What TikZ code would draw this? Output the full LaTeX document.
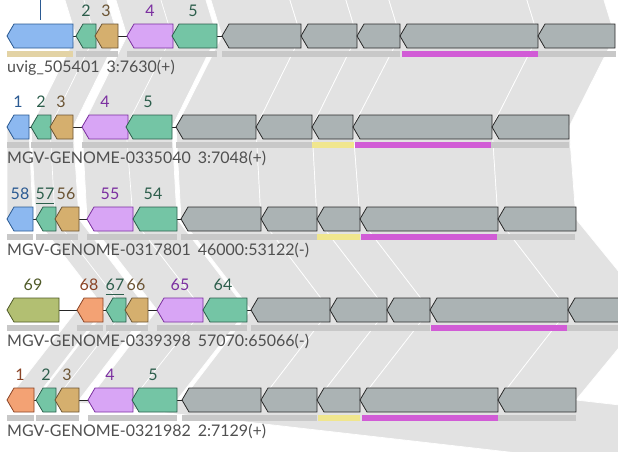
\documentclass[tikz,border=0pt]{standalone}
\usepackage{fontspec}
\setmainfont{Lato}
\usepackage{tikz}

\definecolor{linkgray}{HTML}{E2E2E2}
\definecolor{labeltext}{HTML}{505050}
\definecolor{blueF}{HTML}{8CB8F0}   \definecolor{blueD}{HTML}{2B5A92}
\definecolor{greenF}{HTML}{74C5A5}  \definecolor{greenD}{HTML}{2D5E4C}
\definecolor{tanF}{HTML}{D5AF6E}    \definecolor{tanD}{HTML}{6B5434}
\definecolor{purpleF}{HTML}{D8A5F5} \definecolor{purpleD}{HTML}{7B2FA0}
\definecolor{grayF}{HTML}{ABB3B4}   \definecolor{grayD}{HTML}{2A2A2A}
\definecolor{orangeF}{HTML}{F3A274} \definecolor{orangeD}{HTML}{8A4426}
\definecolor{oliveF}{HTML}{B2BF72}  \definecolor{oliveD}{HTML}{4F5A28}
\definecolor{barG}{HTML}{C8C8C8}
\definecolor{barT}{HTML}{E3D3A5}
\definecolor{barY}{HTML}{F0E68E}
\definecolor{barM}{HTML}{D15CD6}

\pgfdeclarelayer{background}
\pgfsetlayers{background,main}

\tikzset{
  genebox/.style={line width=0.8pt, line join=miter},
  bluegene/.style={genebox, fill=blueF, draw=blueD},
  greengene/.style={genebox, fill=greenF, draw=greenD},
  tangene/.style={genebox, fill=tanF, draw=tanD},
  purplegene/.style={genebox, fill=purpleF, draw=purpleD},
  graygene/.style={genebox, fill=grayF, draw=grayD},
  orangegene/.style={genebox, fill=orangeF, draw=orangeD},
  olivegene/.style={genebox, fill=oliveF, draw=oliveD},
  linkpoly/.style={fill=linkgray, draw=white, line width=0.7pt},
  backbone/.style={draw=black!85, line width=0.8pt},
  genomename/.style={text=labeltext, font=\fontsize{16}{18}\selectfont, anchor=base west, inner sep=0pt},
  genenum/.style={font=\fontsize{16}{18}\selectfont, anchor=base, inner sep=0pt},
  leader/.style={line width=0.8pt},
}

% gene arrow pointing left: name, start, end, centre line, style
\newcommand{\gene}[5] {\coordinate (#1-l) at (#2,#4); \coordinate (#1-r) at (#3,#4);
  \draw [#5] (#2,#4) -- ({#2+7},{#4-12}) -- (#3,{#4-12}) -- (#3,{#4+12}) -- ({#2+7},{#4+12}) -- cycle;}
% gene outside the picture, only its ends
\newcommand{\ghost}[4] {\coordinate (#1-l) at (#2,#4); \coordinate (#1-r) at (#3,#4);}
\newcommand{\genebar}[4] {\fill [#4] (#1,{#3+15}) rectangle (#2,{#3+21});}
\newcommand{\genelink}[2] {\begin{pgfonlayer}{background}
  \draw [linkpoly] (#1-l) -- (#1-r) -- (#2-r) -- (#2-l) -- cycle;\end{pgfonlayer}}
\newcommand{\genenum}[5] {\node [genenum, text=#4] (#1) at (#2,{#3-20}) {#5};}

\begin{document}
\begin{tikzpicture}[x=1pt, y=-1pt]
\useasboundingbox (0,0) rectangle (618,451);

% row 0 (above the picture)
\ghost {r0g2}{48}{68}{-55};
\ghost {r0g3}{67}{90}{-55};
\ghost {r0g4}{99}{145}{-55};
\ghost {r0g5}{144}{189}{-55};
\ghost {r0h1}{194}{273}{-55};
\ghost {r0h2}{273}{329}{-55};
\ghost {r0h3}{329}{372}{-55};
\ghost {r0h4}{372}{510}{-55};
\ghost {r0h5}{510}{587}{-55};

% row 1
\draw [backbone] (7,36) -- (615,36);
\gene {r1a}{7}{73}{36}{bluegene};
\gene {r1g2}{76}{96}{36}{greengene};
\gene {r1g3}{95}{118}{36}{tangene};
\gene {r1g4}{127}{173}{36}{purplegene};
\gene {r1g5}{172}{217}{36}{greengene};
\gene {r1h1}{222}{301}{36}{graygene};
\gene {r1h2}{301}{357}{36}{graygene};
\gene {r1h3}{357}{400}{36}{graygene};
\gene {r1h4}{400}{538}{36}{graygene};
\gene {r1h5}{538}{615}{36}{graygene};
\genebar {7}{73}{36}{barT};
\genebar {76}{118}{36}{barG};
\genebar {127}{217}{36}{barG};
\genebar {222}{400}{36}{barG};
\genebar {402}{538}{36}{barM};
\genebar {538}{616}{36}{barG};
\coordinate (r1a-top) at (40,-2);
\coordinate (r1a-end) at (40,20);
\draw [leader, blueD] (r1a-top) -- (r1a-end);
\genenum {n1-2}{86}{36}{greenD}{2};
\genenum {n1-3}{106}{36}{tanD}{3};
\genenum {n1-4}{150}{36}{purpleD}{4};
\genenum {n1-5}{193}{36}{greenD}{5};
\node [genomename] (name1) at (7,72) {uvig\_505401\hspace{7pt}3:7630(+)};

% row 2
\draw [backbone] (7,127) -- (569,127);
\gene {r2b1}{7}{29}{127}{bluegene};
\gene {r2b2}{31}{51}{127}{greengene};
\gene {r2b3}{50}{73}{127}{tangene};
\gene {r2b4}{82}{128}{127}{purplegene};
\gene {r2b5}{126}{172}{127}{greengene};
\gene {r2h1}{176}{256}{127}{graygene};
\gene {r2h2}{256}{312}{127}{graygene};
\gene {r2h3}{312}{353}{127}{graygene};
\gene {r2h4}{353}{492}{127}{graygene};
\gene {r2h5}{492}{569}{127}{graygene};
\genebar {7}{29}{127}{barG};
\genebar {31}{73}{127}{barG};
\genebar {82}{172}{127}{barG};
\genebar {176}{312}{127}{barG};
\genebar {312}{354}{127}{barY};
\genebar {355}{491}{127}{barM};
\genebar {491}{569}{127}{barG};
\genenum {n2-1}{18}{127}{blueD}{1};
\genenum {n2-2}{41}{127}{greenD}{2};
\genenum {n2-3}{61}{127}{tanD}{3};
\genenum {n2-4}{105}{127}{purpleD}{4};
\genenum {n2-5}{148}{127}{greenD}{5};
\node [genomename] (name2) at (7,163) {MGV-GENOME-0335040\hspace{7pt}3:7048(+)};

% row 3
\draw [backbone] (7,219) -- (576,219);
\gene {r3a}{7}{33}{219}{bluegene};
\gene {r3b}{36}{56}{219}{greengene};
\gene {r3c}{55}{79}{219}{tangene};
\gene {r3d}{87}{133}{219}{purplegene};
\gene {r3e}{133}{177}{219}{greengene};
\gene {r3h1}{181}{261}{219}{graygene};
\gene {r3h2}{261}{317}{219}{graygene};
\gene {r3h3}{317}{360}{219}{graygene};
\gene {r3h4}{360}{498}{219}{graygene};
\gene {r3h5}{498}{576}{219}{graygene};
\genebar {7}{33}{219}{barG};
\genebar {36}{78}{219}{barG};
\genebar {87}{177}{219}{barG};
\genebar {181}{317}{219}{barG};
\genebar {317}{360}{219}{barY};
\genebar {361}{497}{219}{barM};
\genebar {497}{575}{219}{barG};
\genenum {n3-58}{20}{219}{blueD}{58};
\genenum {n3-57}{45}{219}{greenD}{57};
\genenum {n3-56}{66}{219}{tanD}{56};
\genenum {n3-55}{110}{219}{purpleD}{55};
\genenum {n3-54}{153}{219}{greenD}{54};
\draw [leader, greenD] ([yshift=-4pt]n3-57.south west) -- ([yshift=-4pt]n3-57.south east);
\node [genomename] (name3) at (7,255) {MGV-GENOME-0317801\hspace{7pt}46000:53122(-)};

% row 4
\draw [backbone] (7,310) -- (618,310);
\gene {r4a}{7}{59}{310}{olivegene};
\gene {r4b}{77}{103}{310}{orangegene};
\gene {r4c}{106}{126}{310}{greengene};
\gene {r4d}{125}{148}{310}{tangene};
\gene {r4e}{157}{203}{310}{purplegene};
\gene {r4f}{203}{247}{310}{greengene};
\gene {r4h1}{251}{330}{310}{graygene};
\gene {r4h2}{330}{387}{310}{graygene};
\gene {r4h3}{387}{430}{310}{graygene};
\gene {r4h4}{430}{568}{310}{graygene};
\gene {r4h5}{568}{650}{310}{graygene};
\genebar {7}{59}{310}{barG};
\genebar {77}{103}{310}{barG};
\genebar {106}{148}{310}{barG};
\genebar {157}{247}{310}{barG};
\genebar {251}{430}{310}{barG};
\genebar {431}{567}{310}{barM};
\genebar {567}{620}{310}{barG};
\genenum {n4-69}{33}{310}{oliveD}{69};
\genenum {n4-68}{89}{310}{orangeD}{68};
\genenum {n4-67}{115}{310}{greenD}{67};
\genenum {n4-66}{136}{310}{tanD}{66};
\genenum {n4-65}{180}{310}{purpleD}{65};
\genenum {n4-64}{223}{310}{greenD}{64};
\draw [leader, greenD] ([yshift=-4pt]n4-67.south west) -- ([yshift=-4pt]n4-67.south east);
\node [genomename] (name4) at (7,346) {MGV-GENOME-0339398\hspace{7pt}57070:65066(-)};

% row 5
\draw [backbone] (7,400) -- (576,400);
\gene {r5a}{7}{34}{400}{orangegene};
\gene {r5b}{36}{56}{400}{greengene};
\gene {r5c}{55}{79}{400}{tangene};
\gene {r5d}{88}{133}{400}{purplegene};
\gene {r5e}{132}{177}{400}{greengene};
\gene {r5h1}{182}{261}{400}{graygene};
\gene {r5h2}{261}{317}{400}{graygene};
\gene {r5h3}{317}{360}{400}{graygene};
\gene {r5h4}{360}{498}{400}{graygene};
\gene {r5h5}{498}{576}{400}{graygene};
\genebar {7}{34}{400}{barG};
\genebar {36}{79}{400}{barG};
\genebar {88}{177}{400}{barG};
\genebar {182}{317}{400}{barG};
\genebar {318}{360}{400}{barY};
\genebar {362}{498}{400}{barM};
\genebar {498}{576}{400}{barG};
\genenum {n5-1}{20}{400}{orangeD}{1};
\genenum {n5-2}{46}{400}{greenD}{2};
\genenum {n5-3}{67}{400}{tanD}{3};
\genenum {n5-4}{110}{400}{purpleD}{4};
\genenum {n5-5}{153}{400}{greenD}{5};
\node [genomename] (name5) at (7,436) {MGV-GENOME-0321982\hspace{7pt}2:7129(+)};

% row 5 block and row 6 (below the picture)
\ghost {r5all}{55}{576}{400};
\ghost {r6all}{849}{1370}{491};

% links
\foreach \a/\b in {r0g2/r1g2, r0g3/r1g3, r0g4/r1g4, r0g5/r1g5, r0h1/r1h1, r0h2/r1h2, r0h3/r1h3, r0h4/r1h4, r0h5/r1h5,
  r1g2/r2b2, r1g3/r2b3, r1g4/r2b4, r1g5/r2b5, r1h1/r2h1, r1h2/r2h2, r1h3/r2h3, r1h4/r2h4, r1h5/r2h5,
  r2b1/r3a, r2b2/r3b, r2b3/r3c, r2b4/r3d, r2b5/r3e, r2h1/r3h1, r2h2/r3h2, r2h3/r3h3, r2h4/r3h4, r2h5/r3h5,
  r3b/r4c, r3c/r4d, r3d/r4e, r3e/r4f, r3h1/r4h1, r3h2/r4h2, r3h3/r4h3, r3h4/r4h4, r3h5/r4h5,
  r4b/r5a, r4c/r5b, r4d/r5c, r4e/r5d, r4f/r5e, r4h1/r5h1, r4h2/r5h2, r4h3/r5h3, r4h4/r5h4, r4h5/r5h5,
  r5all/r6all}
  \genelink{\a}{\b};

\end{tikzpicture}
\end{document}
